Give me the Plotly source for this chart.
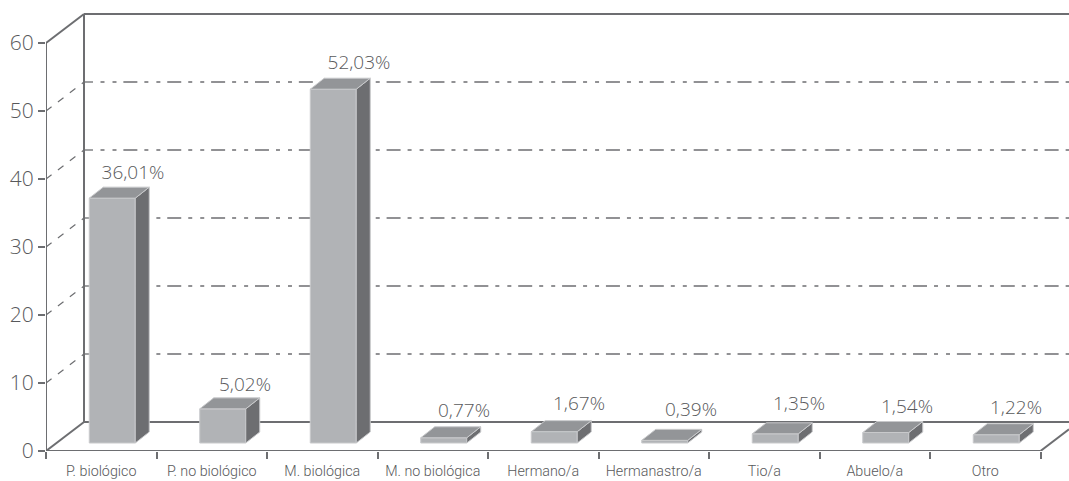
import plotly.graph_objects as go

categories = ["P. biológico", "P. no biológico", "M. biológica", "M. no biológica", "Hermano/a",
              "Hermanastro/a", "Tio/a", "Abuelo/a", "Otro"]
values = [36.01, 5.02, 52.03, 0.77, 1.67, 0.39, 1.35, 1.54, 1.22]
value_labels = ["36,01%", "5,02%", "52,03%", "0,77%", "1,67%", "0,39%", "1,35%", "1,54%", "1,22%"]
y_ticks = [0, 10, 20, 30, 40, 50, 60]

# projection constants (figure pixels converted to axis units)
W, H = 1069, 481
PX_X = 110.5
PX_Y = 6.8
L, R, T, B = 46, 0, 12, 30
X_MAX = (W - R - L) / PX_X
Y_MAX = (H - B - T) / PX_Y
WALL_DX = 38 / PX_X
WALL_DY = 29 / PX_Y
BAR_W = 46 / PX_X
BAR_SHIFT = 11 / PX_X
BAR_BASE = 8 / PX_Y
DEPTH_DX = 14 / PX_X
DEPTH_DY = 11 / PX_Y
DASH_HEAD = 9 / PX_X
DASH_START = 16.5 / PX_X

GREY = "#6d6e71"
TEXT = "#58595b"
FRONT = "#b1b3b6"
TOP = "#939598"
SIDE = "#6d6e71"
EDGE = "#c9cacc"
DASH = "4px,8px,4px,6.87px,14px,7px"

label_px_x = [133, 245, 359, 464, 579, 691, 799, 907, 1016]
label_px_y = [174, 386, 64, 412, 405, 411, 405, 408, 409]

fig = go.Figure()

x_c = [i + 0.5 + BAR_SHIFT for i in range(len(values))]
fig.add_trace(go.Bar(x=x_c, y=values, base=[BAR_BASE] * len(values), width=BAR_W,
                     marker=dict(color=FRONT, line=dict(color=EDGE, width=1)), showlegend=False))

side_x, side_y, top_x, top_y = [], [], [], []
for c, v in zip(x_c, values):
    lft, rgt = c - BAR_W / 2, c + BAR_W / 2
    bot, tp = BAR_BASE, BAR_BASE + v
    side_x += [rgt, rgt + DEPTH_DX, rgt + DEPTH_DX, rgt, rgt, None]
    side_y += [bot, bot + DEPTH_DY, tp + DEPTH_DY, tp, bot, None]
    top_x += [lft, lft + DEPTH_DX, rgt + DEPTH_DX, rgt, lft, None]
    top_y += [tp, tp + DEPTH_DY, tp + DEPTH_DY, tp, tp, None]
for xs, ys, col in [(side_x, side_y, SIDE), (top_x, top_y, TOP)]:
    fig.add_trace(go.Scatter(x=xs, y=ys, mode="lines", fill="toself", fillcolor=col,
                             line=dict(color=EDGE, width=1), showlegend=False, hoverinfo="skip"))

# solid front axes and solid diagonals
nc = len(categories)
solid_x = [0, 0, None, 0, nc, None, 0, WALL_DX, None, 0, WALL_DX, None, nc, X_MAX]
solid_y = [0, 60, None, 0, 0, None, 0, WALL_DY, None, 60, 60 + WALL_DY, None, 0, (X_MAX - nc) / WALL_DX * WALL_DY]
fig.add_trace(go.Scatter(x=solid_x, y=solid_y, mode="lines", cliponaxis=False,
                         line=dict(color=GREY, width=2), showlegend=False, hoverinfo="skip"))

# value labels
lab_x = [(px - L) / PX_X for px in label_px_x]
lab_y = [(451 - py) / PX_Y for py in label_px_y]
fig.add_trace(go.Scatter(x=lab_x, y=lab_y, mode="text", text=value_labels,
                         textfont=dict(family="Open Sans", size=19, color=TEXT, weight=300),
                         textposition="middle center", cliponaxis=False, showlegend=False))

shapes = []
# back wall
for v in y_ticks[1:-1]:
    gy = v + WALL_DY
    shapes.append(dict(type="line", xref="x", yref="y", layer="below", x0=WALL_DX, x1=WALL_DX + DASH_HEAD,
                       y0=gy, y1=gy, line=dict(color=GREY, width=1.3)))
    shapes.append(dict(type="line", xref="x", yref="y", layer="below", x0=WALL_DX + DASH_START, x1=X_MAX,
                       y0=gy, y1=gy, line=dict(color=GREY, width=1.3, dash=DASH)))
    shapes.append(dict(type="line", xref="x", yref="y", layer="below", x0=0, x1=WALL_DX,
                       y0=v, y1=gy, line=dict(color=GREY, width=1.2, dash="7px,8px")))
for x0, x1, y0, y1 in [(WALL_DX, X_MAX, 60 + WALL_DY, 60 + WALL_DY),
                       (WALL_DX, WALL_DX, WALL_DY, 60 + WALL_DY),
                       (WALL_DX, X_MAX, WALL_DY, WALL_DY)]:
    shapes.append(dict(type="line", xref="x", yref="y", layer="below", x0=x0, x1=x1, y0=y0, y1=y1,
                       line=dict(color=GREY, width=2)))

fig.update_layout(
    width=W, height=H, margin=dict(l=L, r=R, t=T, b=B),
    paper_bgcolor="white", plot_bgcolor="white", barmode="overlay", showlegend=False,
    shapes=shapes,
    xaxis=dict(range=[0, X_MAX], showgrid=False, zeroline=False, showline=False,
               tickmode="array", tickvals=[i + 0.5 for i in range(nc)], ticktext=categories,
               ticks="", ticklabelstandoff=10,
               tickfont=dict(family="Roboto", size=14.3, color=TEXT, weight=300),
               minor=dict(tickmode="array", tickvals=list(range(nc + 1)), ticks="outside",
                          ticklen=7, tickwidth=1.5, tickcolor=GREY, showgrid=False)),
    yaxis=dict(range=[0, Y_MAX], showgrid=False, zeroline=False, showline=False,
               tickmode="array", tickvals=y_ticks, ticks="outside", ticklen=7, tickwidth=1.5,
               tickcolor=GREY, tickfont=dict(family="Open Sans", size=21, color=TEXT, weight=300)),
)

fig.write_html("out.html", config={"displayModeBar": False}, post_script="document.body.style.margin='0';")
